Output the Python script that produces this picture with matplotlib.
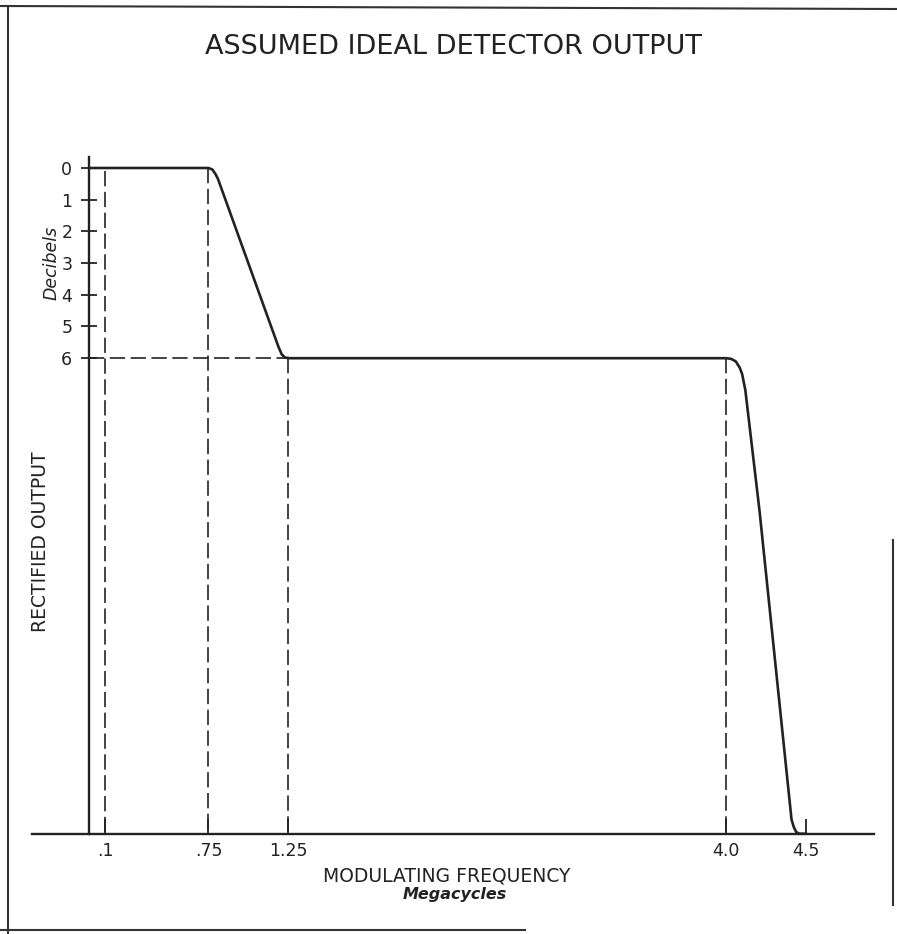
import matplotlib
matplotlib.use("Agg")
import matplotlib.pyplot as plt
from matplotlib.lines import Line2D

plt.rcParams['font.family'] = ['DejaVu Sans']
plt.rcParams['lines.scale_dashes'] = False

INK = '#222222'
W, H = 897, 934

# Response curve: modulating frequency (Mc) vs. attenuation (dB below 0 dB level).
# The baseline value stands for zero rectified output.
BASE_DB = 21.0
curve_freq = [0.0, 0.75, 0.775, 0.795, 0.81, 1.19, 1.21, 1.23, 1.26,
              4.0, 4.03, 4.06, 4.085, 4.10, 4.12, 4.21, 4.41, 4.425, 4.44, 4.46, 4.5]
curve_db = [0.0, 0.0, 0.05, 0.2, 0.35, 5.65, 5.88, 5.98, 6.0,
            6.0, 6.02, 6.1, 6.3, 6.5, 7.0, 10.85, 20.55, 20.8, 20.95, 21.0, 21.0]

# Dashed reference lines: vertical drops from the curve to the baseline
ref_freqs = [0.1, 0.75, 1.25, 4.0]
ref_tops = [0.1, 0.0, 6.0, 6.0]
# horizontal reference at the 6 dB level
half_level_db = 6.0
half_level_end = 1.25

x_ticks = [0.1, 0.75, 1.25, 4.0, 4.5]
x_tick_labels = ['.1', '.75', '1.25', '4.0', '4.5']
y_ticks = [0, 1, 2, 3, 4, 5, 6]
y_tick_labels = ['0', '1', '2', '3', '4', '5', '6']


def fx(px):
    return px / W


def fy(py):
    return 1 - py / H


fig = plt.figure(figsize=(W / 100, H / 100), dpi=100)
fig.patch.set_facecolor('white')

ax = fig.add_axes([fx(20), fy(845), (880 - 20) / W, (845 - 140) / H])
ax.set_facecolor('none')
ax.set_xlim(-0.4331, 4.9655)
ax.set_ylim(21.356, -0.883)

for s in ('top', 'right'):
    ax.spines[s].set_visible(False)
ax.spines['left'].set_position(('data', 0))
ax.spines['left'].set_bounds(-0.35, BASE_DB)
ax.spines['bottom'].set_position(('data', BASE_DB))
ax.spines['bottom'].set_bounds(-0.36, 4.93)
for s in ('left', 'bottom'):
    ax.spines[s].set_linewidth(1.7)
    ax.spines[s].set_color(INK)

ax.set_yticks(y_ticks)
ax.set_yticklabels(y_tick_labels)
ax.set_xticks(x_ticks)
ax.set_xticklabels(x_tick_labels)
ax.tick_params(axis='y', direction='inout', length=12, width=1.3, pad=6,
               labelsize=12.5, colors=INK)
ax.tick_params(axis='x', direction='in', length=11, width=1.3, pad=6,
               labelsize=12.5, colors=INK)

# dashed construction lines
dash = (11, 4)
for f, top in zip(ref_freqs, ref_tops):
    ax.plot([f, f], [top, BASE_DB], color=INK, lw=1.2, dashes=dash)
ax.plot([0, half_level_end], [half_level_db, half_level_db], color=INK, lw=1.2,
        dashes=dash)

# response curve
ax.plot(curve_freq, curve_db, color=INK, lw=1.9, solid_joinstyle='round',
        solid_capstyle='round')

# titles and axis captions
fig.text(fx(453), fy(47), 'ASSUMED IDEAL DETECTOR OUTPUT', ha='center',
         va='center', fontsize=19.5, color=INK)
fig.text(fx(447), fy(876), 'MODULATING FREQUENCY', ha='center', va='center',
         fontsize=13.5, color=INK)
fig.text(fx(455), fy(894), 'Megacycles', ha='center', va='center',
         fontsize=11.5, style='italic', weight='bold', color=INK)
fig.text(fx(52), fy(263), 'Decibels', ha='center', va='center', rotation=90,
         fontsize=12.5, style='italic', color=INK)
fig.text(fx(40), fy(542), 'RECTIFIED OUTPUT', ha='center', va='center',
         rotation=90, fontsize=13.5, color=INK)

# page border
border = [
    ([8, 8], [6, 934]),
    ([0, 897], [6, 9]),
    ([0, 525], [930, 930]),
    ([893, 893], [540, 905]),
]
for xs, ys in border:
    fig.add_artist(Line2D([fx(v) for v in xs], [fy(v) for v in ys],
                          color='#333333', lw=1.5))

fig.savefig('out.png', dpi=100, facecolor='white')
